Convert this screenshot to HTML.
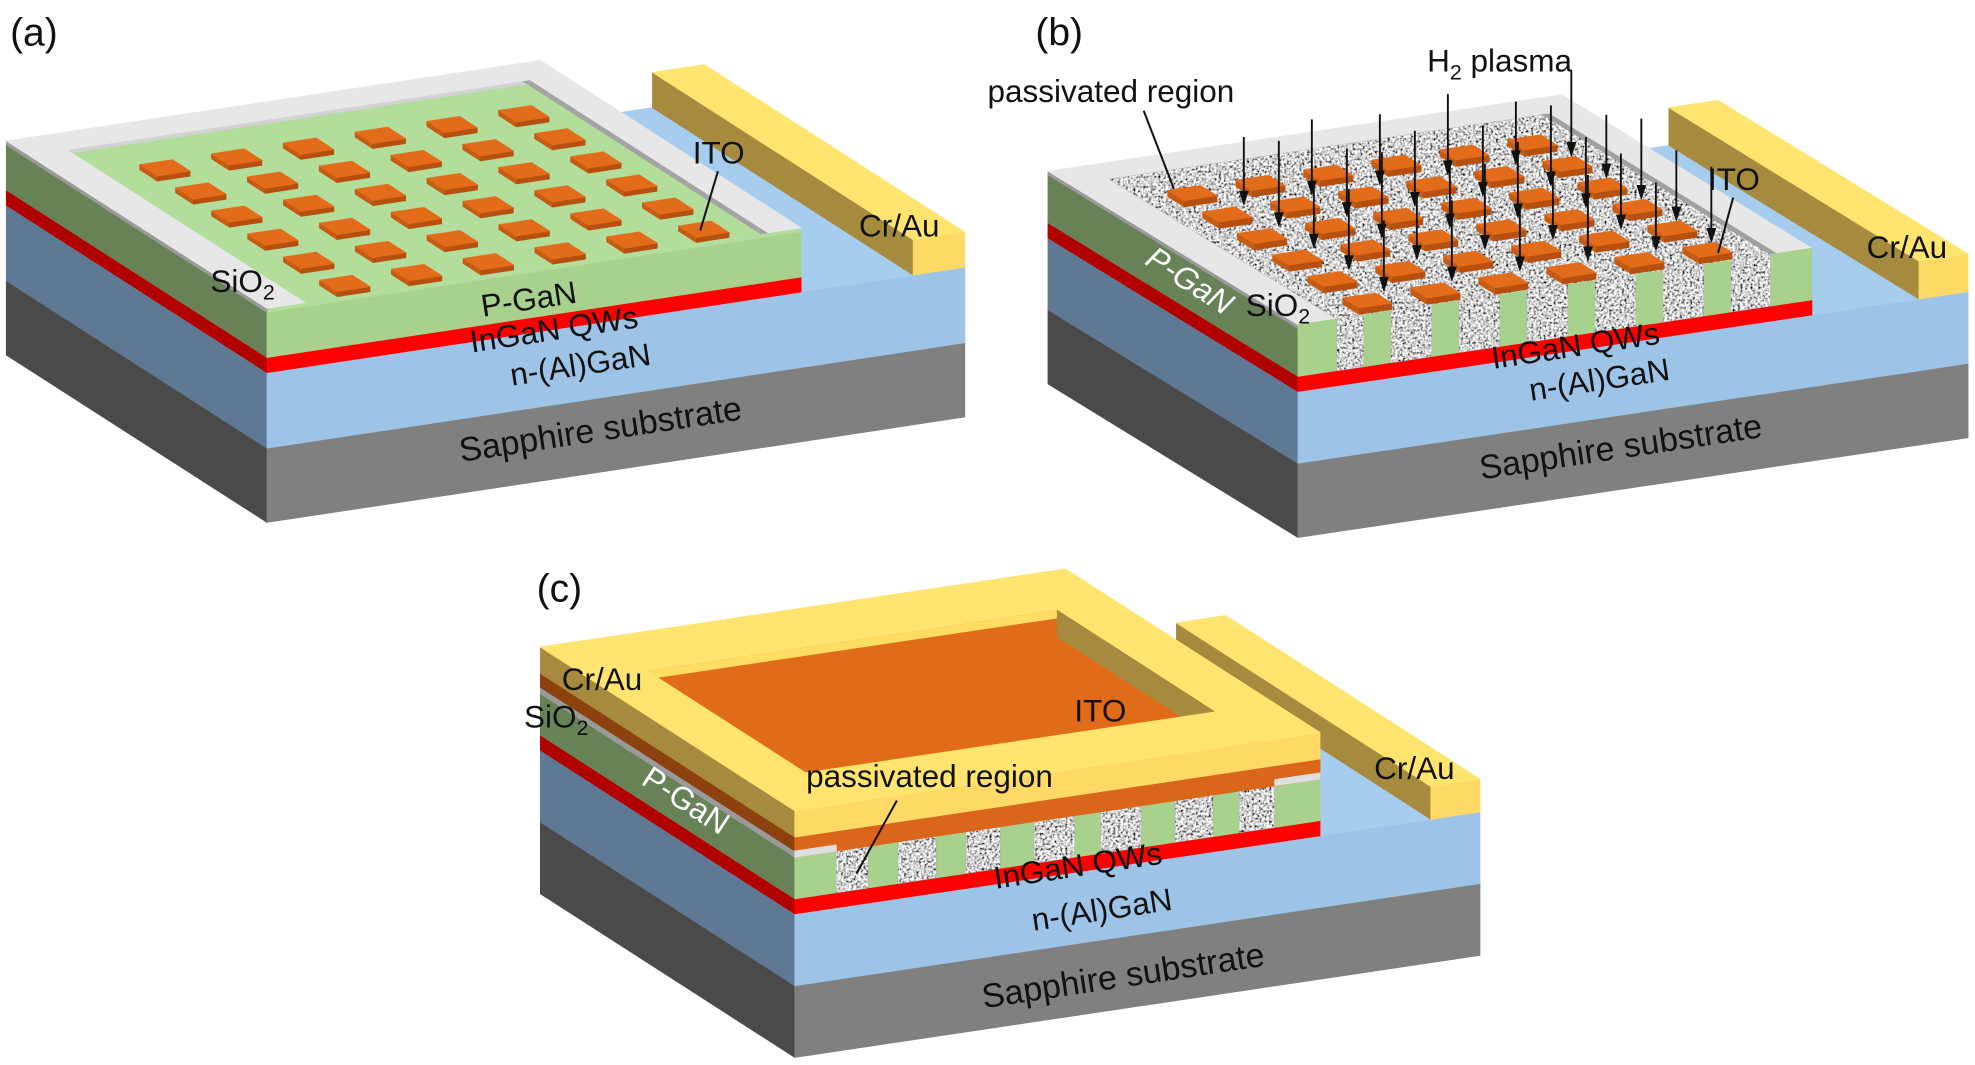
<!DOCTYPE html>
<html><head><meta charset="utf-8">
<style>
html,body{margin:0;padding:0;background:#fff;}
svg{display:block;}
text{font-family:"Liberation Sans",Arial,sans-serif;fill:#111;}
</style></head>
<body>
<svg id="svg" xmlns="http://www.w3.org/2000/svg" width="1975" height="1065" viewBox="0 0 1568 846" preserveAspectRatio="none">
<defs>
<filter id="nz" x="0" y="0" width="1" height="1">
<feTurbulence type="fractalNoise" baseFrequency="0.5" numOctaves="2" seed="4" result="t"/>
<feColorMatrix in="t" type="matrix" values="2.4 0 0 0 -0.55  2.4 0 0 0 -0.55  2.4 0 0 0 -0.55  0 0 0 0 1" result="c"/>
<feComposite in="c" in2="SourceGraphic" operator="in"/>
</filter>
</defs>
<rect x="0" y="0" width="1568" height="846" fill="#fff"/>
<g id="shapes"></g>
<g id="lines" stroke="#111" stroke-width="1.6" fill="none">
<line x1="570" y1="136" x2="556" y2="183"/>
<line x1="908" y1="88" x2="932" y2="150"/>
<line x1="1376" y1="157" x2="1364" y2="201"/>
<line x1="712" y1="636" x2="680" y2="694"/>
</g>
<g id="labels">
<text x="8" y="36" font-size="31">(a)</text>
<text x="822" y="36" font-size="31">(b)</text>
<text x="426" y="478" font-size="31">(c)</text>

<text x="550" y="130" font-size="25">ITO</text>
<text x="682" y="188" font-size="25">Cr/Au</text>
<text x="167" y="232" font-size="25">SiO<tspan font-size="17" dy="6">2</tspan></text>
<text x="421" y="246" font-size="25" text-anchor="middle" transform="rotate(-8.6 421 246)">P-GaN</text>
<text x="441" y="270" font-size="25" text-anchor="middle" transform="rotate(-8.6 441 270)">InGaN QWs</text>
<text x="462" y="298" font-size="25" text-anchor="middle" transform="rotate(-8.6 462 298)">n-(Al)GaN</text>
<text x="478" y="350" font-size="27" text-anchor="middle" transform="rotate(-8.6 478 350)">Sapphire substrate</text>

<text x="1133" y="57" font-size="25">H<tspan font-size="17" dy="6">2</tspan><tspan dy="-6"> plasma</tspan></text>
<text x="784" y="81" font-size="25">passivated region</text>
<text x="1356" y="151" font-size="25">ITO</text>
<text x="1482" y="205" font-size="25">Cr/Au</text>
<text x="989" y="251" font-size="25">SiO<tspan font-size="17" dy="6">2</tspan></text>
<text x="940" y="230" font-size="25" font-style="italic" style="fill:#fff" text-anchor="middle" transform="rotate(33 940 230)">P-GaN</text>
<text x="1252" y="283" font-size="25" text-anchor="middle" transform="rotate(-8.6 1252 283)">InGaN QWs</text>
<text x="1271" y="310" font-size="25" text-anchor="middle" transform="rotate(-8.6 1271 310)">n-(Al)GaN</text>
<text x="1288" y="364" font-size="27" text-anchor="middle" transform="rotate(-8.6 1288 364)">Sapphire substrate</text>

<text x="446" y="548" font-size="25">Cr/Au</text>
<text x="416" y="578" font-size="25">SiO<tspan font-size="17" dy="6">2</tspan></text>
<text x="853" y="573" font-size="25">ITO</text>
<text x="640" y="625" font-size="25">passivated region</text>
<text x="1091" y="619" font-size="25">Cr/Au</text>
<text x="540" y="643" font-size="25" style="fill:#fff" text-anchor="middle" transform="rotate(33 540 643)">P-GaN</text>
<text x="857" y="696" font-size="25" text-anchor="middle" transform="rotate(-8.6 857 696)">InGaN QWs</text>
<text x="876" y="731" font-size="25" text-anchor="middle" transform="rotate(-8.6 876 731)">n-(Al)GaN</text>
<text x="893" y="784" font-size="27" text-anchor="middle" transform="rotate(-8.6 893 784)">Sapphire substrate</text>
</g>
</svg>
<script>
const NS='http://www.w3.org/2000/svg',G=document.getElementById('shapes');
function poly(pts,fill,noise){const e=document.createElementNS(NS,'polygon');
e.setAttribute('points',pts.map(p=>p[0].toFixed(1)+','+p[1].toFixed(1)).join(' '));
e.setAttribute('fill',fill);
if(noise){e.setAttribute('filter','url(#nz)');}else{e.setAttribute('stroke',fill);e.setAttribute('stroke-width','0.6');e.setAttribute('stroke-linejoin','round');}
G.appendChild(e);return e;}
function mk(p){return (u,v,h)=>[p.x0+u+v*p.Vx,p.y0-p.s*u+v*p.Vy-h];}
function L(P,u,v0,v1,h0,h1,c,n){poly([P(u,v0,h0),P(u,v1,h0),P(u,v1,h1),P(u,v0,h1)],c,n)}
function F(P,v,u0,u1,h0,h1,c,n){poly([P(u0,v,h0),P(u1,v,h0),P(u1,v,h1),P(u0,v,h1)],c,n)}
function T(P,u0,u1,v0,v1,h,c,n){poly([P(u0,v0,h),P(u1,v0,h),P(u1,v1,h),P(u0,v1,h)],c,n)}
function box(P,u0,u1,v0,v1,h0,h1,ct,cf,cl){L(P,u0,v0,v1,h0,h1,cl);F(P,v0,u0,u1,h0,h1,cf);T(P,u0,u1,v0,v1,h1,ct);}
const GT='#808080',GL='#4a4a4a',BT='#a7cdee',BF='#9dc3e6',BL='#5f7894',
YT='#ffe470',YF='#ffd966',OL='#a68b3f',RF='#ff0000',RL='#b00000',
GrT='#b2dd9b',GrF='#a9d18e',GrL='#688257',ST='#e7e7e7',SL='#9a9a9a',
OT='#e36c1b',OF='#b5500f',OLf='#c65b13';
function squares(P,h,ucs,vcs,du,dv,t){for(let j=vcs.length-1;j>=0;j--)for(let i=0;i<ucs.length;i++){box(P,ucs[i]-du,ucs[i]+du,vcs[j]-dv,vcs[j]+dv,h,h+t,OT,OF,OLf);}}
function arrow(x,y,len){const l=document.createElementNS(NS,'line');l.setAttribute('x1',x);l.setAttribute('y1',y-len);l.setAttribute('x2',x);l.setAttribute('y2',y-9);l.setAttribute('stroke','#111');l.setAttribute('stroke-width','1.5');G.appendChild(l);
poly([[x-3.5,y-11],[x+3.5,y-11],[x,y]],'#111');}

/* ---------- (a) ---------- */
const Pa=mk({x0:212,y0:296,s:0.151,Vx:-207,Vy:-133});
box(Pa,0,554,0,1,-119,-60,GT,GT,GL);
box(Pa,0,554,0,1,-60,0,BT,BF,BL);
box(Pa,513,554,0,1,0,28,YT,YF,OL);
box(Pa,0,424,0,1,0,12,RF,RF,RL);
box(Pa,0,424,0,1,12,48,GrT,GrF,GrL);
L(Pa,0,0,1,48,51,SL);
T(Pa,0,424,0,1,51,ST);
T(Pa,31,392,0,0.905,51,GrT);
T(Pa,31,392,0.895,0.91,51,'#d2d2d2');
T(Pa,392,397,0,0.91,51,'#a4a4a4');
{const uc=[],vc=[];for(let i=0;i<6;i++){uc.push(70+57*i);vc.push(0.04+0.138*i);}squares(Pa,51,uc,vc,13,0.034,4);}

/* ---------- (b) ---------- */
const Pb=mk({x0:1030.5,y0:311,s:0.149,Vx:-198.5,Vy:-122});
box(Pb,0,532,0,1,-116,-57,GT,GT,GL);
box(Pb,0,532,0,1,-57,0,BT,BF,BL);
box(Pb,493,532,0,1,0,30,YT,YF,OL);
box(Pb,0,408,0,1,0,12,RF,RF,RL);
L(Pb,0,0,1,12,50,GrL);
L(Pb,0,0,1,50,53,SL);
T(Pb,0,408,0,1,53,ST);
T(Pb,31,375,0,0.91,53,'#ababab');
T(Pb,31,375,0,0.91,53,'#aaa',true);
T(Pb,375,380,0,0.91,53,'#a0a0a0');
F(Pb,0,0,408,12,53,GrF);
{const uc=[],vc=[];for(let i=0;i<6;i++){uc.push(63+54*i);vc.push(0.04+0.14*i);}
 let edges=[31];uc.forEach(u=>{edges.push(u-11);edges.push(u+11);});edges.push(375);
 for(let k=0;k<edges.length;k+=2){F(Pb,0,edges[k],edges[k+1],12,53,'#ababab');F(Pb,0,edges[k],edges[k+1],12,53,'#aaa',true);}
 squares(Pb,53,uc,vc,13,0.033,5);
 const lens=[56,64,50,68,54,60];
 for(let j=4;j>=0;j--)for(let i=0;i<6;i++){const p=Pb(uc[i]+27-(i==5?10:0),vc[j]+0.07,53);arrow(p[0],p[1],lens[(i+j)%6]);}
}

/* ---------- (c) ---------- */
const Pc=mk({x0:631,y0:726,s:0.149,Vx:-202,Vy:-130});
box(Pc,0,544,0,1,-114,-57,GT,GT,GL);
box(Pc,0,544,0,1,-57,0,BT,BF,BL);
box(Pc,505,544,0,1,0,26,YT,YF,OL);
box(Pc,0,417,0,1,0,12,RF,RF,RL);
L(Pc,0,0,1,12,45,GrL);
F(Pc,0,0,417,12,45,GrF);
[[33,58],[82,112],[136,163],[190,222],[243,275],[302,332],[353,381]].forEach(c=>{F(Pc,0,c[0],c[1],12,45,'#ababab');F(Pc,0,c[0],c[1],12,45,'#aaa',true);});
L(Pc,0,0,1,45,50,SL);
L(Pc,0,0,1,50,61,'#8c420f');
F(Pc,0,0,417,45,61,'#d9661a');
F(Pc,0,0,33,45,50,'#dedede');
F(Pc,0,381,417,45,50,'#dedede');
L(Pc,0,0,1,61,82,OL);
F(Pc,0,0,417,61,82,YF);
T(Pc,0,417,0,1,82,YT);
T(Pc,45,370,0.18,0.8,82,'#e06c1a');
F(Pc,0.8,45,370,76,82,'#ffdc62');
L(Pc,370,0.18,0.8,61,82,OL);
T(Pc,0,417,0,0.18,82,YT);
T(Pc,0,45,0,1,82,YT);
</script>
</body></html>
